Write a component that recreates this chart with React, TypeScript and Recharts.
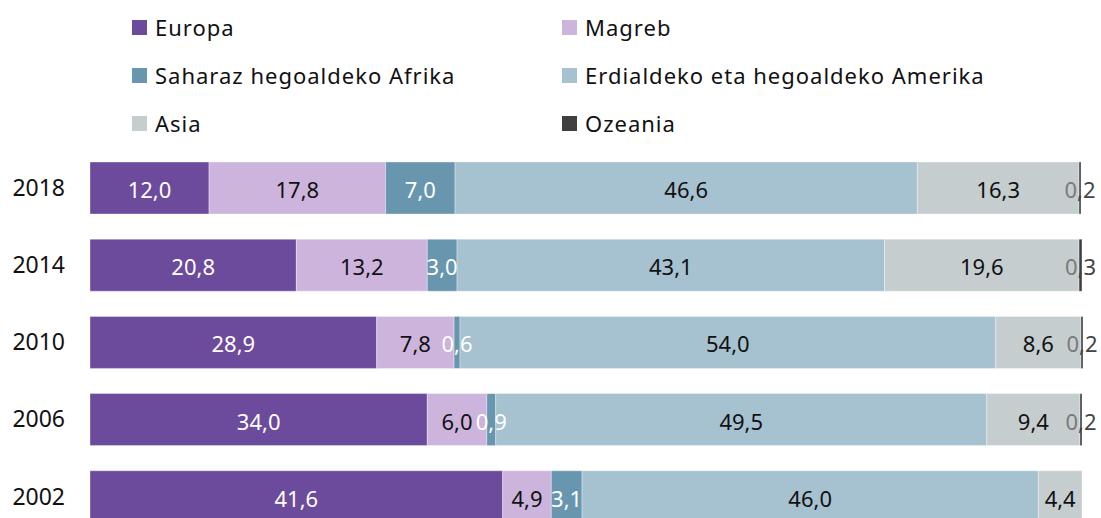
import React from 'react';
import { BarChart, Bar, XAxis, YAxis, LabelList } from 'recharts';

const years = ['2018', '2014', '2010', '2006', '2002'];
const europa = [12.0, 20.8, 28.9, 34.0, 41.6];
const magreb = [17.8, 13.2, 7.8, 6.0, 4.9];
const saharaz = [7.0, 3.0, 0.6, 0.9, 3.1];
const erdialdeko = [46.6, 43.1, 54.0, 49.5, 46.0];
const asia = [16.3, 19.6, 8.6, 9.4, 4.4];
const ozeania = [0.2, 0.3, 0.2, 0.2, 0];

const seriesNames = ['Europa', 'Magreb', 'Saharaz hegoaldeko Afrika', 'Erdialdeko eta hegoaldeko Amerika', 'Asia', 'Ozeania'];
const seriesKeys = ['europa', 'magreb', 'saharaz', 'erdialdeko', 'asia', 'ozeania'];
const seriesColors = ['#6c4a9c', '#cdb4dc', '#6896ae', '#a6c1cf', '#c6cdcf', '#404040'];
const labelColors = ['#ffffff', '#111111', '#ffffff', '#111111', '#111111', 'split'];

const data = years.map((y, i) => ({
  year: y,
  europa: europa[i],
  magreb: magreb[i],
  saharaz: saharaz[i],
  erdialdeko: erdialdeko[i],
  asia: asia[i],
  ozeania: ozeania[i],
}));

const FONT = '"Noto Sans", sans-serif';
const fmt = (v: number) => v.toFixed(1).replace('.', ',');

const makeLabel = (color: string) => (props: any) => {
  const { x, y, width, height, value } = props;
  if (!value) return null;
  const cx = x + width / 2;
  const cy = y + height / 2 + 1;
  const s = fmt(value);
  if (color === 'split') {
    return (
      <text x={cx} y={cy} textAnchor="middle" dominantBaseline="central" fontFamily={FONT} fontSize={22}>
        <tspan fill="#7a7a7a">{s.slice(0, 1)}</tspan>
        <tspan fill="#444444">{s.slice(1)}</tspan>
      </text>
    );
  }
  return (
    <text x={cx} y={cy} textAnchor="middle" dominantBaseline="central" fontFamily={FONT} fontSize={22} fill={color}>
      {s}
    </text>
  );
};

const legendCols = [132, 562];
const legendRows = [27.5, 75.5, 123.5];

export default function App() {
  return (
    <div style={{ position: 'relative', width: 1101, height: 518, overflow: 'hidden', fontFamily: FONT, background: '#fff' }}>
      <style>{'html,body{margin:0;padding:0;overflow:hidden;}'}</style>
      {seriesNames.map((name, i) => {
        const col = i % 2;
        const row = Math.floor(i / 2);
        return (
          <div key={name} style={{ position: 'absolute', left: legendCols[col], top: legendRows[row] - 15, height: 30, display: 'flex', alignItems: 'center' }}>
            <div style={{ width: 15, height: 15, background: seriesColors[i], marginRight: 8 }} />
            <span style={{ fontSize: 22, letterSpacing: 1, color: '#111', lineHeight: '30px', whiteSpace: 'nowrap', position: 'relative', top: -1 }}>{name}</span>
          </div>
        );
      })}
      <div style={{ position: 'absolute', left: 0, top: 0 }}>
        <BarChart
          width={1101}
          height={548}
          data={data}
          layout="vertical"
          margin={{ top: 149, right: 18, bottom: 13, left: 0 }}
          barSize={52}
        >
          <XAxis type="number" domain={[0, 100.1]} hide />
          <YAxis
            type="category"
            dataKey="year"
            width={90}
            axisLine={false}
            tickLine={false}
            tickSize={0}
            tickMargin={25}
            tick={{ fontSize: 23, fill: '#111', fontFamily: FONT }}
          />
          {seriesKeys.map((k, i) => (
            <Bar
              key={k}
              dataKey={k}
              stackId="a"
              fill={seriesColors[i]}
              stroke="#ffffff"
              strokeWidth={0.5}
              strokeOpacity={0.7}
              isAnimationActive={false}
            >
              <LabelList dataKey={k} content={makeLabel(labelColors[i])} />
            </Bar>
          ))}
        </BarChart>
      </div>
    </div>
  );
}
